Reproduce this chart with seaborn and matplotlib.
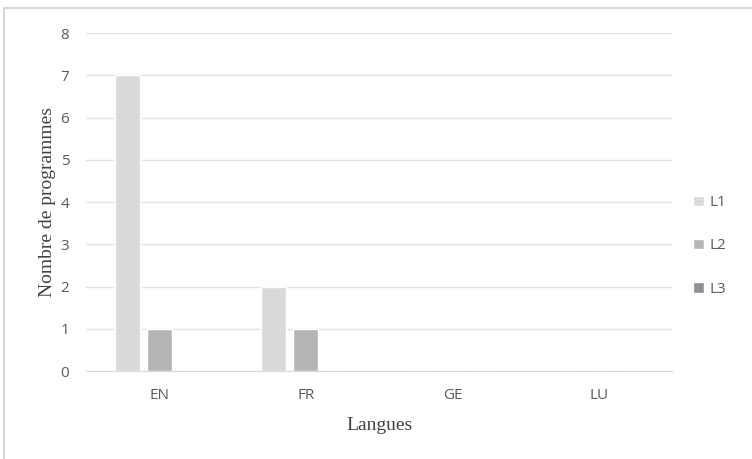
import pandas as pd
import numpy as np
import matplotlib.pyplot as plt
import seaborn as sns
from matplotlib.patches import Rectangle

langues = ["EN", "FR", "GE", "LU"]
niveaux = ["L1", "L2", "L3"]
l1 = [7, 2, 0, 0]
l2 = [1, 1, 0, 0]
l3 = [0, 0, 0, 0]

df = pd.DataFrame({
    "Langues": langues * 3,
    "Niveau": ["L1"] * 4 + ["L2"] * 4 + ["L3"] * 4,
    "Nombre": l1 + l2 + l3,
})

couleurs = ["#d9d9d9", "#b3b5b7", "#8e9093"]

sns.set_style("white")
fig = plt.figure(figsize=(7.52, 4.59), dpi=100)
ax = fig.add_axes([0.1144, 0.1917, 0.7796, 0.7363])

sns.barplot(
    data=df, x="Langues", y="Nombre", hue="Niveau",
    hue_order=niveaux, order=langues, palette=couleurs,
    width=0.655, gap=0.22, ax=ax, errorbar=None, saturation=1,
)

ax.set_ylim(0, 8)
ax.set_xlim(-0.5, 3.5)
ax.set_yticks(range(0, 9))
ax.yaxis.grid(True, color="#e3e3e3", linewidth=1)
ax.set_axisbelow(True)
for s in ["top", "right", "left"]:
    ax.spines[s].set_visible(False)
ax.spines["bottom"].set_color("#d9d9d9")
ax.tick_params(axis="both", length=0, labelsize=11, colors="#595959")
ax.tick_params(axis="x", pad=12)
ax.tick_params(axis="y", pad=12)
for lab in ax.get_xticklabels() + ax.get_yticklabels():
    lab.set_family("Open Sans")

ax.set_xlabel("Langues", family="Liberation Serif", fontsize=14, color="#404040", labelpad=10)
ax.set_ylabel("Nombre de programmes", family="Liberation Serif", fontsize=14, color="#404040", labelpad=3)

leg = ax.legend(
    loc="center left", bbox_to_anchor=(1.012, 0.37), frameon=False,
    labelspacing=1.85, handlelength=0.7, handleheight=0.7, handletextpad=0.4,
    prop={"family": "Open Sans", "size": 11},
)
for t in leg.get_texts():
    t.set_color("#595959")

fig.patches.append(Rectangle((4 / 752, -0.1), 1.1, 1 - 8 / 459 + 0.1,
                             transform=fig.transFigure, fill=False,
                             edgecolor="#d0d0d0", linewidth=1.2))

fig.savefig("out.png", dpi=100)
